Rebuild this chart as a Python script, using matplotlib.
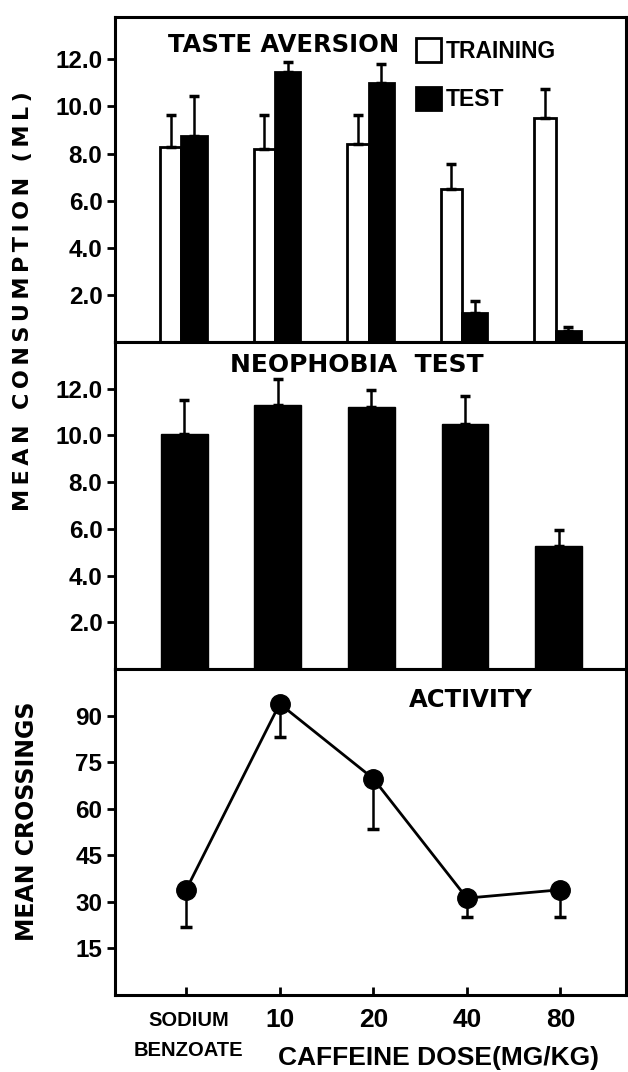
import matplotlib
matplotlib.use("Agg")
import matplotlib.pyplot as plt
import matplotlib.transforms as mtransforms
import numpy as np

# ---------------- data ----------------
groups = ["SODIUM\nBENZOATE", "10", "20", "40", "80"]
training_mean = [8.3, 8.2, 8.4, 6.5, 9.5]
training_err = [1.35, 1.45, 1.25, 1.05, 1.25]
test_mean = [8.75, 11.45, 11.0, 1.25, 0.45]
test_err = [1.7, 0.45, 0.8, 0.5, 0.2]
neophobia_mean = [10.05, 11.3, 11.2, 10.5, 5.25]
neophobia_err = [1.45, 1.1, 0.75, 1.2, 0.7]
activity_mean = [33.9, 93.8, 69.7, 31.2, 33.9]
activity_err = [12.1, 10.7, 16.2, 6.2, 8.9]
consumption_ticks = [2, 4, 6, 8, 10, 12]
crossing_ticks = [15, 30, 45, 60, 75, 90]

plt.rcParams['font.family'] = ['Liberation Sans', 'DejaVu Sans']
plt.rcParams['font.weight'] = 'bold'
TITLE_FONT = ['DejaVu Sans']

W, H = 628, 1072
fig = plt.figure(figsize=(W / 100, H / 100), dpi=100)


def px_axes(l, t, r, b):
    return fig.add_axes([l / W, 1 - b / H, (r - l) / W, (b - t) / H])


ax1 = px_axes(115, 17, 626, 342)
ax2 = px_axes(115, 342, 626, 669)
ax3 = px_axes(115, 669, 626, 995)

x = np.arange(len(groups))
xlim = (-0.76, 4.70)
zeros = np.zeros(len(groups))
ekw = dict(fmt='none', ecolor='black', elinewidth=1.8, capthick=2.5)

# ---------- top: taste aversion ----------
b_tr = ax1.bar(x - 0.165, training_mean, width=0.23, color='white',
               edgecolor='black', linewidth=2, label='TRAINING', zorder=2)
b_te = ax1.bar(x + 0.085, test_mean, width=0.27, color='black',
               edgecolor='black', linewidth=2, label='TEST', zorder=2)
ax1.errorbar(x - 0.165, training_mean, yerr=[zeros, training_err],
             capsize=3.5, zorder=3, **ekw)
ax1.errorbar(x + 0.085, test_mean, yerr=[zeros, test_err],
             capsize=3.5, zorder=3, **ekw)
ax1.set_ylim(0, 13.8)
ax1.set_yticks(consumption_ticks)
ax1.set_yticklabels([f"{v:.1f}" for v in consumption_ticks])
ax1.text(0.33, 0.914, "TASTE AVERSION", transform=ax1.transAxes,
         ha='center', va='center', fontsize=17.5, family=TITLE_FONT,
         fontweight='bold')
ax1.legend(handles=[b_tr, b_te], loc='upper left',
           bbox_to_anchor=(0.589, 0.935), frameon=False, fontsize=16.5,
           handlelength=1.1, handleheight=1.2, handletextpad=0.2,
           labelspacing=1.05, borderpad=0, borderaxespad=0)

# ---------- middle: neophobia ----------
ax2.bar(x - 0.02, neophobia_mean, width=0.5, color='black',
        edgecolor='black', linewidth=1, zorder=2)
ax2.errorbar(x - 0.02, neophobia_mean, yerr=[zeros, neophobia_err],
             capsize=3.5, zorder=3, **ekw)
ax2.set_ylim(0, 14.0)
ax2.set_yticks(consumption_ticks)
ax2.set_yticklabels([f"{v:.1f}" for v in consumption_ticks])
ax2.text(0.474, 0.93, "NEOPHOBIA  TEST", transform=ax2.transAxes,
         ha='center', va='center', fontsize=18, family=TITLE_FONT,
         fontweight='bold')

# ---------- bottom: activity ----------
ax3.errorbar(x, activity_mean, yerr=[activity_err, zeros], capsize=4.5,
             zorder=2, **ekw)
ax3.plot(x, activity_mean, '-o', color='black', linewidth=2,
         markersize=14, zorder=3)
ax3.set_ylim(0, 105)
ax3.set_yticks(crossing_ticks)
ax3.set_yticklabels([str(v) for v in crossing_ticks])
ax3.text(0.697, 0.905, "ACTIVITY", transform=ax3.transAxes,
         ha='center', va='center', fontsize=17.5, family=TITLE_FONT,
         fontweight='bold')
ax3.set_xticks(x)
ax3.set_xticklabels([])
ax3.tick_params(axis='x', direction='in', length=6, width=2)

for ax in (ax1, ax2, ax3):
    ax.set_xlim(*xlim)
    for s in ax.spines.values():
        s.set_linewidth(2.2)
    ax.tick_params(axis='y', direction='out', length=6, width=2,
                   labelsize=17.5, pad=3)
    for lab in ax.get_yticklabels():
        lab.set_fontweight('bold')
for ax in (ax1, ax2):
    ax.set_xticks([])

# x category labels
trans = mtransforms.blended_transform_factory(ax3.transData, fig.transFigure)
for xi, g in zip(x, groups):
    if '\n' in g:
        l1, l2 = g.split('\n')
        fig.text(xi + 0.03, 1 - 1021 / H, l1, transform=trans, ha='center',
                 va='center', fontsize=14.5, fontweight='bold')
        fig.text(xi + 0.03, 1 - 1051 / H, l2, transform=trans, ha='center',
                 va='center', fontsize=14.5, fontweight='bold')
    else:
        fig.text(xi, 1 - 1020 / H, g, transform=trans, ha='center',
                 va='center', fontsize=19, fontweight='bold')
fig.text(438 / W, 1 - 1058 / H, "CAFFEINE DOSE(MG/KG)", ha='center',
         va='center', fontsize=19, fontweight='bold')

# y axis titles
ts = "\u2009"
ylab1 = "  ".join(ts.join(w) for w in ["MEAN", "CONSUMPTION", "(ML)"])
fig.text(23 / W, 1 - 301 / H, ylab1, rotation=90, ha='center', va='center',
         fontsize=16, family=TITLE_FONT, fontweight='bold')
fig.text(27 / W, 1 - 821 / H, "MEAN CROSSINGS", rotation=90, ha='center',
         va='center', fontsize=17, family=TITLE_FONT, fontweight='bold')

fig.savefig("out.png", dpi=100)
